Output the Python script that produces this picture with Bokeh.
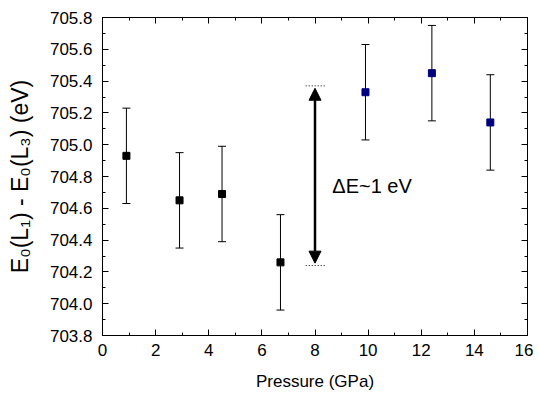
from bokeh.plotting import figure
from bokeh.models import (ColumnDataSource, Whisker, TeeHead, LinearAxis, Range1d,
                          PrintfTickFormatter, Arrow, NormalHead, Label, CustomJSTickFormatter)
from bokeh.embed import file_html
from bokeh.resources import INLINE

pressure = [0.9, 2.9, 4.5, 6.7, 9.9, 12.4, 14.6]
energy = [704.93, 704.65, 704.69, 704.26, 705.33, 705.45, 705.14]
err = [0.30, 0.30, 0.30, 0.30, 0.30, 0.30, 0.30]
colors = ["black", "black", "black", "black", "#00007f", "#00007f", "#00007f"]

x_ticks = list(range(0, 17, 2))
x_minor = list(range(0, 17))
y_ticks = [703.8, 704.0, 704.2, 704.4, 704.6, 704.8, 705.0, 705.2, 705.4, 705.6, 705.8]
y_minor = [round(703.8 + 0.1 * i, 1) for i in range(21)]

arrow_x = 8.0
arrow_low = 704.24
arrow_high = 705.37
delta_label = "ΔE~1 eV"

src = ColumnDataSource(dict(
    x=pressure, y=energy,
    lo=[e - d for e, d in zip(energy, err)],
    hi=[e + d for e, d in zip(energy, err)],
    c=colors,
))

FONT = "Liberation Sans"

p = figure(frame_width=425, frame_height=318, output_backend="svg", toolbar_location=None,
           x_range=Range1d(0, 16), y_range=Range1d(703.8, 705.8),
           min_border_left=102, min_border_right=6, min_border_top=17, min_border_bottom=60)
p.outline_line_color = "black"
p.outline_line_width = 1
p.grid.visible = False
p.background_fill_color = "white"
p.border_fill_color = "white"

w = Whisker(source=src, base="x", lower="lo", upper="hi", line_color="black", line_width=1,
            upper_head=TeeHead(size=8, line_color="black", line_width=1),
            lower_head=TeeHead(size=8, line_color="black", line_width=1))
p.add_layout(w)
p.scatter("x", "y", source=src, marker="square", size=7, fill_color="c", line_color="c")

# dotted reference lines + double arrow
p.segment(x0=[arrow_x - 0.35, arrow_x - 0.35], x1=[arrow_x + 0.4, arrow_x + 0.4],
          y0=[arrow_high, arrow_low], y1=[arrow_high, arrow_low],
          line_color="black", line_dash="1 2", line_width=1)
p.add_layout(Arrow(x_start=arrow_x, x_end=arrow_x, y_start=arrow_low + 0.015, y_end=arrow_high - 0.015,
                   line_width=2.5, line_color="black",
                   start=NormalHead(size=12, fill_color="black", line_color="black"),
                   end=NormalHead(size=12, fill_color="black", line_color="black")))
p.add_layout(Label(x=8.65, y=704.74, text=delta_label, text_font=FONT, text_font_size="20px",
                   text_baseline="middle", text_color="black"))

for ax in (p.xaxis[0], p.yaxis[0]):
    ax.major_tick_in = 6
    ax.major_tick_out = 0
    ax.minor_tick_in = 3
    ax.minor_tick_out = 0
    ax.major_label_text_font = FONT
    ax.major_label_text_font_size = "17px"
    ax.major_label_text_color = "black"
    ax.axis_label_text_font = FONT
    ax.axis_label_text_font_style = "normal"
    ax.axis_label_text_color = "black"
    ax.axis_line_color = "black"
    ax.major_tick_line_color = "black"
    ax.minor_tick_line_color = "black"

p.xaxis.ticker = x_ticks
p.xaxis[0].ticker.minor_ticks = x_minor
p.xaxis.axis_label = "Pressure (GPa)"
p.xaxis.axis_label_text_font_size = "17px"
p.xaxis.major_label_standoff = 8
p.xaxis.axis_label_standoff = 13

p.yaxis.ticker = y_ticks
p.yaxis[0].ticker.minor_ticks = y_minor
p.yaxis.formatter = PrintfTickFormatter(format="%.1f")
p.yaxis.axis_label = "E₀(L₁) - E₀(L₃) (eV)"
p.yaxis.axis_label_text_font_size = "23px"
p.yaxis.major_label_standoff = 10
p.yaxis.axis_label_standoff = 14

# mirrored axes (top and right), no labels
for side in ("above", "right"):
    a = LinearAxis(formatter=CustomJSTickFormatter(code="return ''"),
                   major_tick_in=6, major_tick_out=0,
                   minor_tick_in=3, minor_tick_out=0, major_label_standoff=0,
                   axis_line_color="black", major_tick_line_color="black",
                   minor_tick_line_color="black")
    if side == "above":
        a.ticker = x_ticks
        a.ticker.minor_ticks = x_minor
    else:
        a.ticker = y_ticks
        a.ticker.minor_ticks = y_minor
    p.add_layout(a, side)

open("out.html", "w").write(file_html(p, INLINE))
